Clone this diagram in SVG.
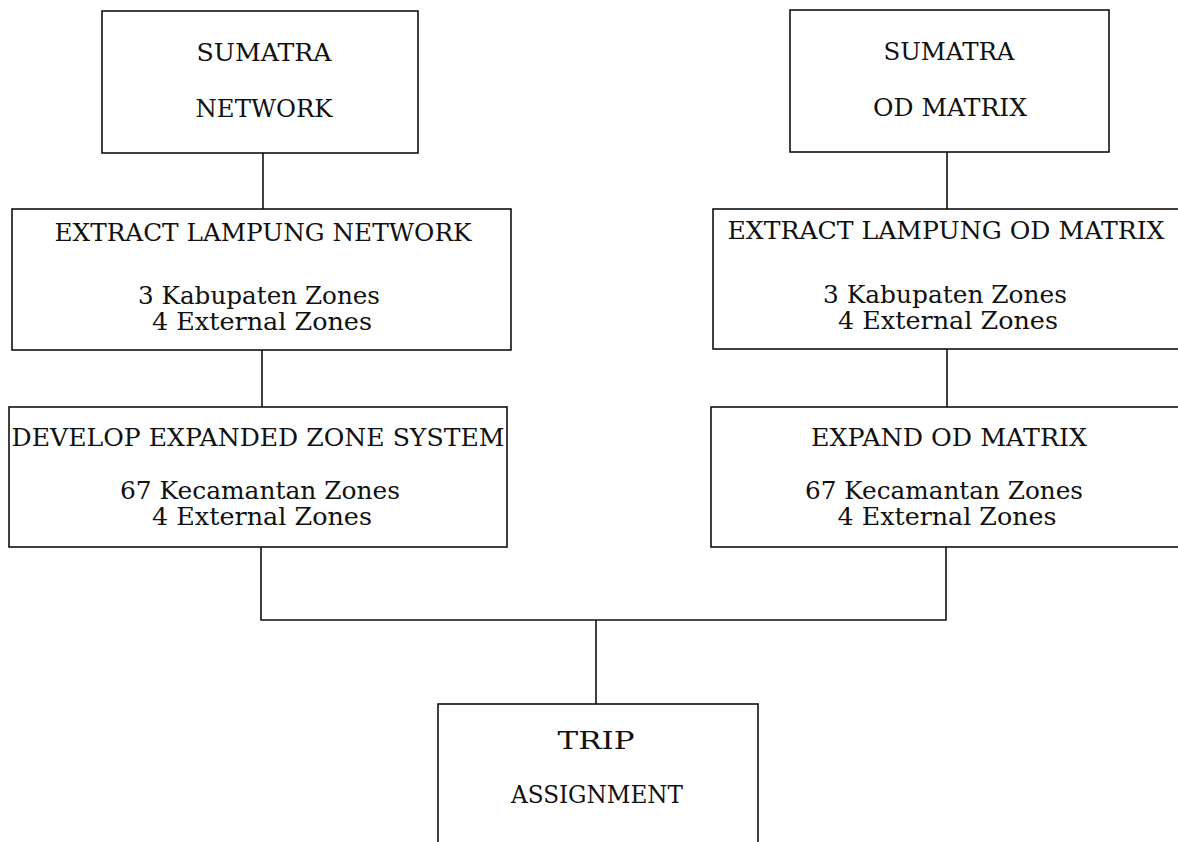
<svg xmlns="http://www.w3.org/2000/svg" width="1178" height="842" viewBox="0 0 1178 842">
<style>
.box{fill:none;stroke:#111;stroke-width:1.6}
.con{fill:none;stroke:#111;stroke-width:1.6}
text{font-family:"DejaVu Serif","Liberation Serif",serif;font-size:24px;fill:#111;text-anchor:middle}
</style>
<rect width="1178" height="842" fill="#fff"/>
<g id="connectors">
<line class="con" x1="263" y1="153" x2="263" y2="209"/>
<line class="con" x1="262" y1="350" x2="262" y2="407"/>
<line class="con" x1="947" y1="152" x2="947" y2="209"/>
<line class="con" x1="947" y1="349" x2="947" y2="407"/>
<polyline class="con" points="261,547 261,620 946,620 946,547"/>
<line class="con" x1="596" y1="620" x2="596" y2="704"/>
</g>
<g id="sumatra-network">
<rect class="box" x="102" y="11" width="316" height="142"/>
<text x="264" y="61" textLength="135" lengthAdjust="spacingAndGlyphs">SUMATRA</text>
<text x="264" y="117" textLength="137" lengthAdjust="spacingAndGlyphs">NETWORK</text>
</g>
<g id="extract-network">
<rect class="box" x="12" y="209" width="499" height="141"/>
<text x="263" y="241" textLength="417" lengthAdjust="spacingAndGlyphs">EXTRACT LAMPUNG NETWORK</text>
<text x="259" y="304" textLength="242" lengthAdjust="spacingAndGlyphs">3 Kabupaten Zones</text>
<text x="262" y="330" textLength="220" lengthAdjust="spacingAndGlyphs">4 External Zones</text>
</g>
<g id="develop-zone-system">
<rect class="box" x="9" y="407" width="498" height="140"/>
<text x="258" y="446" textLength="493" lengthAdjust="spacingAndGlyphs">DEVELOP EXPANDED ZONE SYSTEM</text>
<text x="260" y="499" textLength="280" lengthAdjust="spacingAndGlyphs">67 Kecamantan Zones</text>
<text x="262" y="525" textLength="220" lengthAdjust="spacingAndGlyphs">4 External Zones</text>
</g>
<g id="sumatra-od">
<rect class="box" x="790" y="10" width="319" height="142"/>
<text x="949" y="60" textLength="131" lengthAdjust="spacingAndGlyphs">SUMATRA</text>
<text x="950" y="116" textLength="154" lengthAdjust="spacingAndGlyphs">OD MATRIX</text>
</g>
<g id="extract-od">
<rect class="box" x="713" y="209" width="480" height="140"/>
<text x="946" y="239" textLength="437" lengthAdjust="spacingAndGlyphs">EXTRACT LAMPUNG OD MATRIX</text>
<text x="945" y="303" textLength="244" lengthAdjust="spacingAndGlyphs">3 Kabupaten Zones</text>
<text x="948" y="329" textLength="220" lengthAdjust="spacingAndGlyphs">4 External Zones</text>
</g>
<g id="expand-od">
<rect class="box" x="711" y="407" width="482" height="140"/>
<text x="949" y="446" textLength="276" lengthAdjust="spacingAndGlyphs">EXPAND OD MATRIX</text>
<text x="944" y="499" textLength="278" lengthAdjust="spacingAndGlyphs">67 Kecamantan Zones</text>
<text x="947" y="525" textLength="219" lengthAdjust="spacingAndGlyphs">4 External Zones</text>
</g>
<g id="trip-assignment">
<rect class="box" x="438" y="704" width="320" height="160"/>
<text x="596" y="749" textLength="77" lengthAdjust="spacingAndGlyphs">TRIP</text>
<text x="597" y="803" textLength="172" lengthAdjust="spacingAndGlyphs">ASSIGNMENT</text>
</g>
</svg>
